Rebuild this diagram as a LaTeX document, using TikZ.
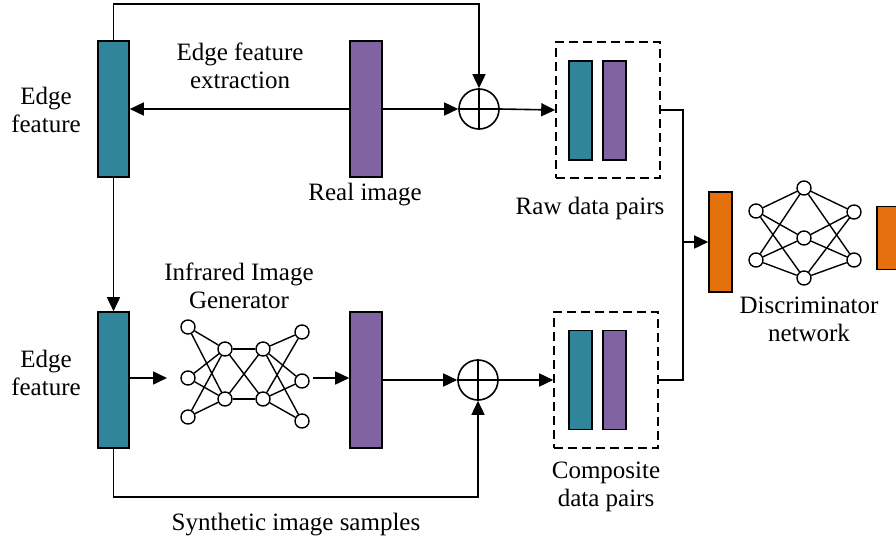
\documentclass[tikz,border=0pt]{standalone}
\usepackage{fontspec}
\setmainfont{Liberation Serif}
\usetikzlibrary{arrows.meta}
\definecolor{edgeteal}{RGB}{49,133,155}
\definecolor{imgpurple}{RGB}{128,100,162}
\definecolor{discorange}{RGB}{228,112,14}

\begin{document}
\begin{tikzpicture}[x=1pt,y=-1pt,line width=1.6pt,
  bar/.style={draw=black,line width=1.6pt,rectangle,inner sep=0pt},
  tealbar/.style={bar,fill=edgeteal},
  purplebar/.style={bar,fill=imgpurple},
  orangebar/.style={bar,fill=discorange},
  pairbox/.style={draw=black,line width=1.6pt,dash pattern=on 9pt off 5pt,rectangle,inner sep=0pt,minimum width=104pt,minimum height=136pt},
  neuron/.style={draw=black,line width=1.4pt,circle,fill=white,inner sep=0pt,minimum size=14pt},
  summer/.style={draw=black,line width=1.6pt,circle,inner sep=0pt,minimum size=40pt},
  link/.style={line width=1.4pt},
  arr/.style={-{Triangle[length=14pt,width=13pt]}},
  lbl/.style={inner sep=0pt,anchor=north,align=center,font=\rmfamily\fontsize{25}{28.5}\selectfont}]

\useasboundingbox (0,0) rectangle (896,538);

% feature bars and real/synthetic images
\node[tealbar,minimum width=31pt,minimum height=136pt] (ef1) at (113.5,109) {};
\node[purplebar,minimum width=32pt,minimum height=136pt] (ri1) at (366,109) {};
\node[tealbar,minimum width=31pt,minimum height=136pt] (ef2) at (113.5,380) {};
\node[purplebar,minimum width=32pt,minimum height=136pt] (ri2) at (366,380) {};

% summing junctions
\node[summer] (plus1) at (479,109) {};
\draw (plus1.north) -- (plus1.south) (plus1.west) -- (plus1.east);
\node[summer] (plus2) at (478,380) {};
\draw (plus2.north) -- (plus2.south) (plus2.west) -- (plus2.east);

% data pairs
\node[pairbox] (box1) at (608,110) {};
\node[tealbar,minimum width=23pt,minimum height=99pt] (p1t) at (580.5,110.5) {};
\node[purplebar,minimum width=23pt,minimum height=99pt] (p1p) at (614.5,110.5) {};
\node[pairbox] (box2) at (606,380) {};
\node[tealbar,minimum width=23pt,minimum height=99pt] (p2t) at (580.5,380) {};
\node[purplebar,minimum width=23pt,minimum height=99pt] (p2p) at (614.5,380) {};

% discriminator input and output
\node[orangebar,minimum width=23pt,minimum height=100pt] (or1) at (720.5,242) {};
\node[orangebar,minimum width=23pt,minimum height=63pt] (or2) at (888.5,238) {};

% generator network
\node[neuron] (g11) at (188,327) {};
\node[neuron] (g12) at (188,378) {};
\node[neuron] (g13) at (188,417) {};
\node[neuron] (g21) at (225,349) {};
\node[neuron] (g22) at (225,399) {};
\node[neuron] (g31) at (263,349) {};
\node[neuron] (g32) at (263,399) {};
\node[neuron] (g41) at (302,332) {};
\node[neuron] (g42) at (302,381) {};
\node[neuron] (g43) at (302,421) {};
\foreach \a in {g11,g12,g13} \foreach \b in {g21,g22} \draw[link] (\a) -- (\b);
\foreach \a in {g21,g22} \foreach \b in {g31,g32} \draw[link] (\a) -- (\b);
\foreach \a in {g31,g32} \foreach \b in {g41,g42,g43} \draw[link] (\a) -- (\b);

% discriminator network
\node[neuron] (d11) at (756,211) {};
\node[neuron] (d12) at (756,260) {};
\node[neuron] (d21) at (804,188) {};
\node[neuron] (d22) at (804,238) {};
\node[neuron] (d23) at (804,278) {};
\node[neuron] (d31) at (854,212) {};
\node[neuron] (d32) at (854,260) {};
\foreach \a in {d11,d12} \foreach \b in {d21,d22,d23} \draw[link] (\a) -- (\b);
\foreach \a in {d21,d22,d23} \foreach \b in {d31,d32} \draw[link] (\a) -- (\b);

% connectors
\coordinate (genin) at (167,378);
\coordinate (genout) at (313,378);
\coordinate (jn) at (683,242);
\draw[arr] (ef1.north) -- ++(0,-36) -| (plus1.north);
\draw[arr] (ri1.west) -- (ef1.east);
\draw[arr] (ri1.east) -- (plus1.west);
\draw[arr] (plus1.east) -- (box1.west);
\draw[arr] (ef1.south) -- (ef2.north);
\draw[arr] (ef2.east |- genin) -- (genin);
\draw[arr] (genout) -- (ri2.west |- genout);
\draw[arr] (ri2.east) -- (plus2.west);
\draw[arr] (plus2.east) -- (box2.west);
\draw[arr] (ef2.south) -- ++(0,48) -| (plus2.south);
\draw (box1.east) -| (jn) |- (box2.east);
\draw[arr] (jn) -- (or1.west |- jn);

% labels
\node[lbl] (t1) at (46,86) {Edge\\feature};
\node[lbl] (t2) at (240,42) {Edge feature\\extraction};
\node[lbl] (t3) at (365,182) {Real image};
\node[lbl] (t4) at (46,349) {Edge\\feature};
\node[lbl] (t5) at (239,262) {Infrared Image\\Generator};
\node[lbl] (t6) at (296,512) {Synthetic image samples};
\node[lbl] (t7) at (590,196) {Raw data pairs};
\node[lbl] (t8) at (809,296) {Discriminator\\network};
\node[lbl] (t9) at (606,461) {Composite\\data pairs};
\end{tikzpicture}
\end{document}
